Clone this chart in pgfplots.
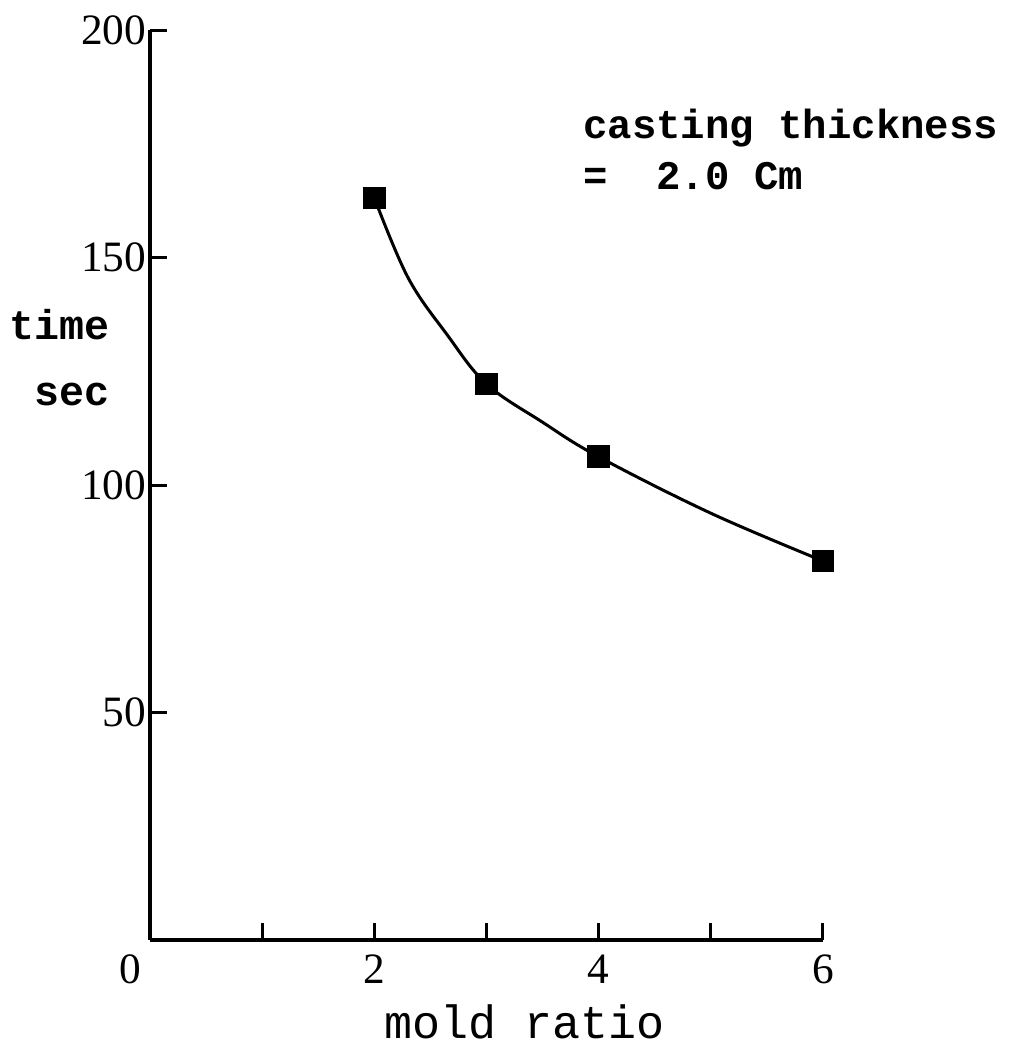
\documentclass[border=0pt]{standalone}
\usepackage{fontspec}
\setmainfont{Liberation Serif}
\setmonofont{Liberation Mono}
\usepackage{pgfplots}
\pgfplotsset{compat=1.18}
\begin{document}
\begin{tikzpicture}
\begin{axis}[
  scale only axis,
  width=201.9pt, height=273pt,
  xmin=0, xmax=6, ymin=0, ymax=200,
  axis x line=bottom, axis y line=left,
  axis line style={-, line width=1.3pt},
  xtick={0,1,2,3,4,5,6},
  xticklabels={\hspace*{-12pt}0,,2,,4,,6},
  ytick={50,100,150,200},
  yticklabels={50,100,150,200},
  tick align=inside,
  major tick length=5pt,
  tick style={black, line width=0.9pt},
  /pgf/number format/assume math mode=true,
  ticklabel style={font=\fontsize{13}{15}\selectfont},
  xticklabel style={yshift=-1pt},
  yticklabel style={inner sep=1pt},
  clip=false,
]
% curve
\addplot[black, line width=0.9pt, smooth, tension=0.6] coordinates {
  (2,163.1) (2.3,145.6) (2.65,133.0) (3,122.2) (3.5,113.8) (4,106.2) (5,93.8) (6,83.3)
};
% measured points
\addplot[black, only marks, mark=square*, mark size=3.2pt,
  mark options={fill=black}] coordinates {
  (2,163.1) (3,122.2) (4,106.2) (6,83.3)
};
\node[font=\ttfamily\bfseries\fontsize{12.2}{14}\selectfont, anchor=west, inner sep=0pt] at (rel axis cs:0.643,0.892) {casting thickness};
\node[font=\ttfamily\bfseries\fontsize{12.2}{14}\selectfont, anchor=west, inner sep=0pt] at (rel axis cs:0.643,0.840) {=\ \ 2.0 Cm};
\node[font=\ttfamily\bfseries\fontsize{12.5}{14}\selectfont] at (rel axis cs:-0.134,0.676) {time};
\node[font=\ttfamily\bfseries\fontsize{12.5}{14}\selectfont] at (rel axis cs:-0.116,0.599) {sec};
\node[font=\ttfamily\fontsize{14}{16}\selectfont] at (rel axis cs:0.557,-0.090) {mold ratio};
\coordinate (bl) at (rel axis cs:-0.2229,-0.1143);
\coordinate (tr) at (rel axis cs:1.2823,1.033);
\end{axis}
\pgfresetboundingbox
\path[use as bounding box] (bl) rectangle (tr);
\end{tikzpicture}
\end{document}
